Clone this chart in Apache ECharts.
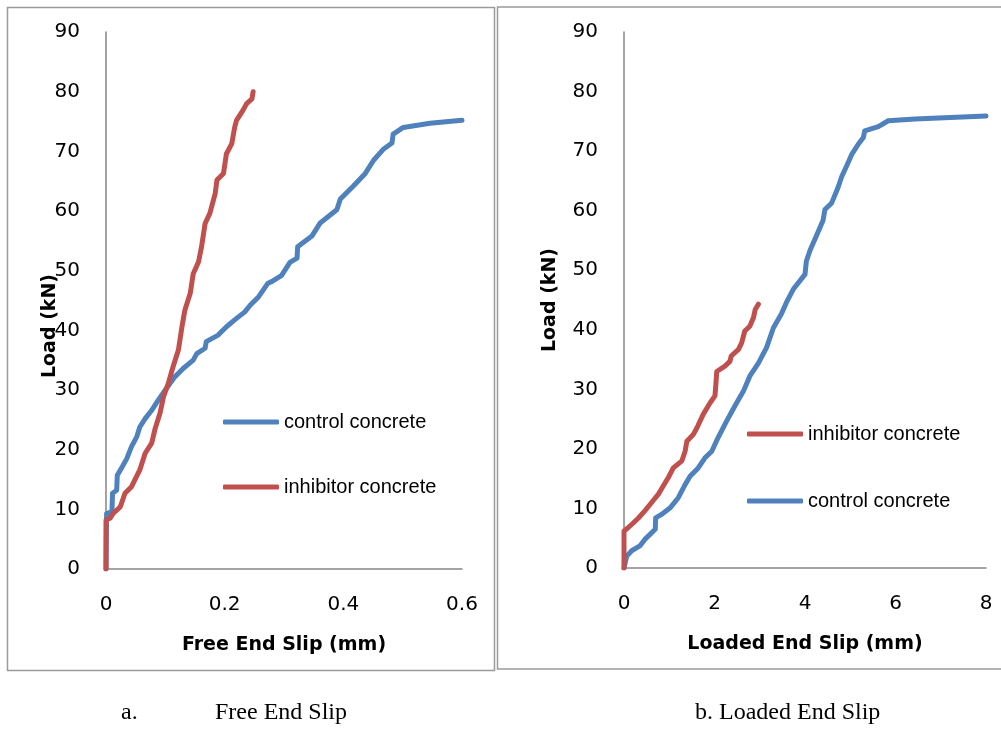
<!DOCTYPE html>
<html><head><meta charset="utf-8">
<script src="https://cdn.jsdelivr.net/npm/echarts@6/dist/echarts.min.js"></script>
<style>html,body{margin:0;padding:0;background:#fff}#c{width:1001px;height:729px}</style>
</head><body><div id="c"></div>
<script>
// Panel a: Free End Slip (mm) vs Load (kN)
const freeControl = [
  [0,0],[0.001,9.3],[0.010,9.6],[0.011,12.7],[0.018,13.2],[0.019,15.7],[0.026,16.9],[0.035,18.5],
  [0.043,20.5],[0.052,22.2],[0.057,23.8],[0.066,25.2],[0.077,26.6],[0.088,28.3],[0.102,30.3],
  [0.116,32.2],[0.130,33.6],[0.147,35.0],[0.153,36.1],[0.167,37.0],[0.169,38.1],[0.189,39.2],
  [0.203,40.6],[0.220,42.0],[0.234,43.1],[0.243,44.2],[0.257,45.6],[0.273,47.9],[0.280,48.2],
  [0.296,49.2],[0.310,51.4],[0.322,52.1],[0.323,54.0],[0.347,55.8],[0.361,58.0],[0.389,60.2],
  [0.395,62.0],[0.417,64.2],[0.437,66.3],[0.451,68.5],[0.468,70.4],[0.482,71.4],[0.484,72.9],
  [0.501,74.0],[0.546,74.7],[0.600,75.2]
];
const freeInhibitor = [
  [0,0],[0,8.2],[0.007,8.5],[0.012,9.3],[0.024,10.4],[0.032,12.7],[0.043,13.8],[0.057,16.6],
  [0.066,19.4],[0.077,21.1],[0.083,23.6],[0.091,26.1],[0.097,28.9],[0.105,31.1],[0.113,33.9],
  [0.122,36.7],[0.128,40.6],[0.133,43.4],[0.142,46.2],[0.147,49.5],[0.156,51.5],[0.161,54.0],
  [0.167,57.9],[0.175,59.6],[0.184,62.9],[0.187,65.2],[0.198,66.3],[0.203,69.6],[0.212,71.3],
  [0.217,74.1],[0.220,75.2],[0.231,76.9],[0.237,78.0],[0.246,78.8],[0.248,80.0]
];
// Panel b: Loaded End Slip (mm) vs Load (kN)
const loadedControl = [
  [0,0],[0.06,2.0],[0.17,2.9],[0.35,3.7],[0.46,4.8],[0.57,5.6],[0.69,6.5],[0.70,8.4],[0.83,9.0],
  [1.02,10.1],[1.20,11.8],[1.35,14.0],[1.46,15.4],[1.64,16.8],[1.79,18.5],[1.94,19.6],[2.08,21.9],
  [2.27,24.7],[2.45,27.2],[2.64,29.7],[2.78,32.2],[2.97,34.4],[3.15,37.0],[3.30,40.3],[3.48,42.7],
  [3.59,44.6],[3.74,46.8],[4.00,49.3],[4.03,51.5],[4.11,53.3],[4.26,55.9],[4.40,58.4],[4.44,60.2],
  [4.59,61.3],[4.73,63.9],[4.81,65.7],[4.92,67.5],[5.03,69.4],[5.18,71.2],[5.29,72.3],[5.32,73.4],
  [5.62,74.1],[5.84,75.1],[6.43,75.4],[8.00,75.9]
];
const loadedInhibitor = [
  [0,0],[0,6.2],[0.095,6.8],[0.21,7.6],[0.32,8.4],[0.46,9.6],[0.61,11.0],[0.76,12.4],[0.87,13.8],
  [0.98,15.2],[1.09,16.8],[1.28,18.0],[1.35,19.6],[1.39,21.3],[1.53,22.4],[1.61,23.5],[1.75,25.8],
  [1.90,27.7],[2.01,28.9],[2.03,30.8],[2.05,33.0],[2.23,33.9],[2.34,34.7],[2.37,35.6],[2.53,36.7],
  [2.60,37.8],[2.67,39.8],[2.78,40.6],[2.86,42.0],[2.90,43.4],[2.97,44.3]
];
const seriesNames = ['control concrete', 'inhibitor concrete'];
const freeXTicks = {min: 0, max: 0.6, interval: 0.2};
const loadedXTicks = {min: 0, max: 8, interval: 2};
const loadTicks = {min: 0, max: 90, interval: 10};
const xTitles = ['Free End Slip (mm)', 'Loaded End Slip (mm)'];
const yTitle = 'Load (kN)';
const captions = ['a.', 'Free End Slip', 'b. Loaded End Slip'];

const BLUE = '#4F81BD', RED = '#C0504D', AXIS = '#868686';
const chart = echarts.init(document.getElementById('c'), null, {renderer: 'canvas'});
const tickFont = {fontFamily: 'DejaVu Sans', fontSize: 20, color: '#000'};
const titleFont = {fontFamily: 'DejaVu Sans', fontSize: 19, fontWeight: 'bold', color: '#000'};
function xAx(idx, t, name) {
  return {gridIndex: idx, type: 'value', min: t.min, max: t.max, interval: t.interval,
    name: name, nameLocation: 'middle', nameGap: 67, nameTextStyle: titleFont,
    axisLine: {show: true, onZero: false, lineStyle: {color: AXIS, width: 1.5}},
    axisTick: {show: false}, splitLine: {show: false},
    axisLabel: Object.assign({margin: 26}, tickFont)};
}
function yAx(idx) {
  return {gridIndex: idx, type: 'value', min: loadTicks.min, max: loadTicks.max, interval: loadTicks.interval,
    axisLine: {show: true, onZero: false, lineStyle: {color: AXIS, width: 1.5}},
    axisTick: {show: false}, splitLine: {show: false},
    axisLabel: Object.assign({margin: 26}, tickFont)};
}
function line(name, data, color, idx) {
  return {type: 'line', name: name, data: data, xAxisIndex: idx, yAxisIndex: idx,
    symbol: 'none', smooth: false, animation: false, z: name === seriesNames[1] ? 3 : 2,
    lineStyle: {color: color, width: 5, cap: 'round', join: 'round'}, itemStyle: {color: color}};
}
const legendText = {fontFamily: 'Liberation Sans', fontSize: 20, color: '#000', padding: [0, 0, 0, 0]};
const legendBase = {orient: 'vertical', icon: 'roundRect', itemWidth: 56, itemHeight: 5, padding: 0,
  selectedMode: false, textStyle: legendText};
chart.setOption({
  animation: false,
  backgroundColor: '#fff',
  grid: [
    {left: 106, top: 32, width: 356, height: 537},
    {left: 624, top: 32, width: 362, height: 536}
  ],
  xAxis: [xAx(0, freeXTicks, xTitles[0]), xAx(1, loadedXTicks, xTitles[1])],
  yAxis: [yAx(0), yAx(1)],
  legend: [
    Object.assign({left: 223, top: 412, itemGap: 45, data: [seriesNames[0], seriesNames[1]]}, legendBase),
    Object.assign({left: 747, top: 424, itemGap: 47, data: [seriesNames[1], seriesNames[0]]}, legendBase)
  ],
  series: [
    line(seriesNames[0], freeControl, BLUE, 0),
    line(seriesNames[1], freeInhibitor, RED, 0),
    line(seriesNames[0], loadedControl, BLUE, 1),
    line(seriesNames[1], loadedInhibitor, RED, 1)
  ],
  graphic: [
    {type: 'rect', shape: {x: 7.5, y: 7.5, width: 487, height: 663}, style: {fill: null, stroke: '#9a9a9a', lineWidth: 1.5}, z: -1},
    {type: 'rect', shape: {x: 497.5, y: 7, width: 520, height: 662}, style: {fill: null, stroke: '#9a9a9a', lineWidth: 1.5}, z: -1},
    {type: 'text', x: 50, y: 326, rotation: Math.PI / 2, style: {text: yTitle, align: 'center', verticalAlign: 'middle', font: 'bold 19px "DejaVu Sans"', fill: '#000'}},
    {type: 'text', x: 550, y: 300, rotation: Math.PI / 2, style: {text: yTitle, align: 'center', verticalAlign: 'middle', font: 'bold 19px "DejaVu Sans"', fill: '#000'}},
    {type: 'text', x: 121, y: 713, style: {text: captions[0], align: 'left', verticalAlign: 'middle', font: '24px "Liberation Serif"', fill: '#000'}},
    {type: 'text', x: 215, y: 713, style: {text: captions[1], align: 'left', verticalAlign: 'middle', font: '24px "Liberation Serif"', fill: '#000'}},
    {type: 'text', x: 695, y: 713, style: {text: captions[2], align: 'left', verticalAlign: 'middle', font: '24px "Liberation Serif"', fill: '#000'}}
  ]
});
</script></body></html>
